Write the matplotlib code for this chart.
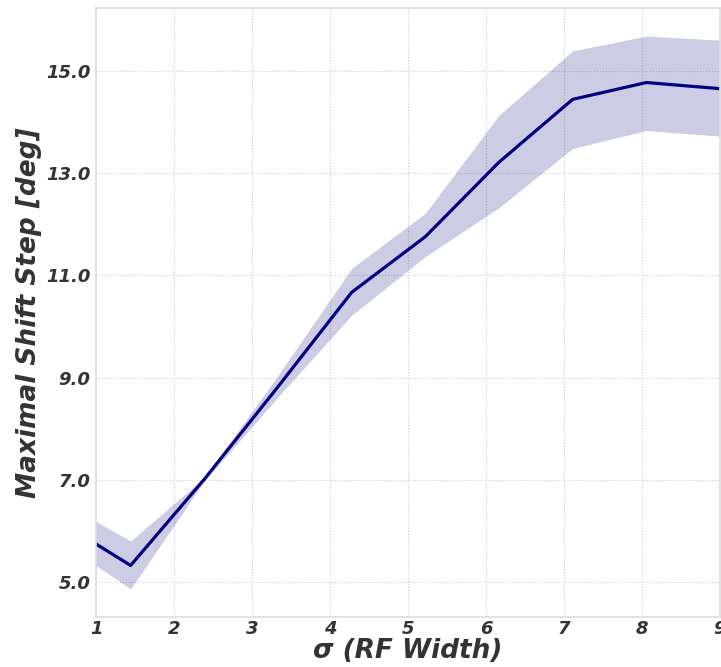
import matplotlib
matplotlib.use("Agg")
import matplotlib.pyplot as plt
import numpy as np

# RF width values and the measured shift step (mean with lower / upper band)
sigma = [1.0, 1.444, 2.389, 3.333, 4.278, 5.222, 6.167, 7.111, 8.056, 9.0]
shift_mean = [5.74, 5.32, 7.01, 8.82, 10.67, 11.76, 13.22, 14.45, 14.78, 14.66]
shift_low = [5.32, 4.86, 6.97, 8.62, 10.22, 11.37, 12.33, 13.49, 13.84, 13.73]
shift_high = [6.18, 5.80, 7.04, 9.04, 11.14, 12.22, 14.14, 15.40, 15.69, 15.61]

x_ticks = [1, 2, 3, 4, 5, 6, 7, 8, 9]
y_ticks = [5.0, 7.0, 9.0, 11.0, 13.0, 15.0]

fig = plt.figure(figsize=(7.21, 6.67), dpi=100)
ax = fig.add_axes([96 / 721, 50 / 667, 624 / 721, 609 / 667])

ax.fill_between(sigma, shift_low, shift_high, color="navy", alpha=0.2, linewidth=0)
ax.plot(sigma, shift_mean, color="navy", linewidth=2.3)

ax.set_xlim(1, 9)
ax.set_ylim(4.31, 16.24)
ax.set_xticks(x_ticks)
ax.set_yticks(y_ticks)
ax.set_yticklabels([f"{v:.1f}" for v in y_ticks])

ax.grid(True, linestyle=":", color="#cccccc", linewidth=0.8)
ax.set_axisbelow(True)
for s in ax.spines.values():
    s.set_color("#dddddd")
    s.set_linewidth(1.2)

ax.tick_params(length=0, labelsize=13, labelcolor="#333333")
ax.tick_params(axis="x", pad=2)
ax.tick_params(axis="y", pad=4)
for lab in ax.get_xticklabels() + ax.get_yticklabels():
    lab.set_fontweight("bold")
    lab.set_fontstyle("italic")

ax.set_xlabel("σ (RF Width)", fontsize=19, fontweight="bold", fontstyle="italic",
              color="#333333", labelpad=0)
ax.set_ylabel("Maximal Shift Step [deg]", fontsize=19, fontweight="bold",
              fontstyle="italic", color="#333333", labelpad=3)

fig.savefig("out.png", dpi=100)
